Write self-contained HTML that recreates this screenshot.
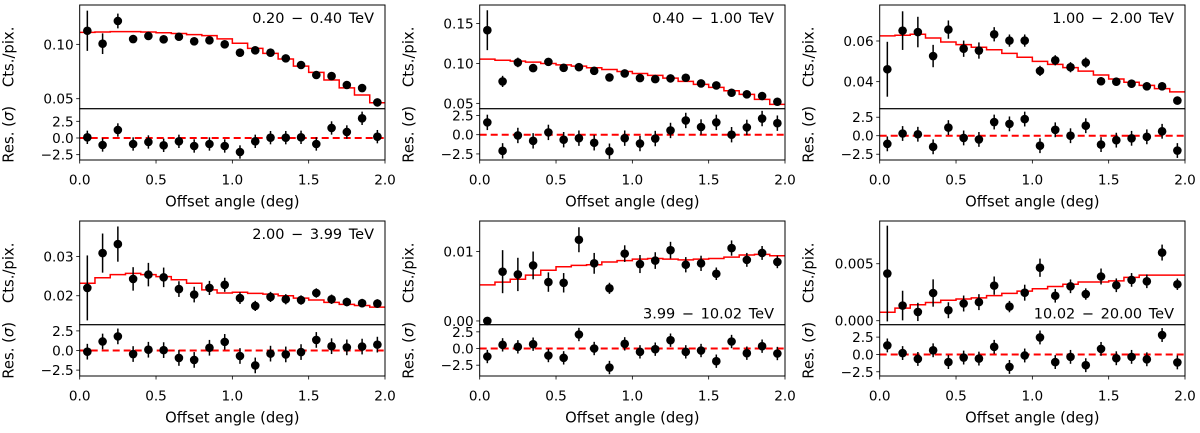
<!DOCTYPE html>
<html><head><meta charset="utf-8"><style>
body{margin:0;background:#fff;}
svg text{font-family:"DejaVu Sans","Liberation Sans",sans-serif;fill:#000;}
</style></head><body>
<svg id="fig" width="1200" height="428" xmlns="http://www.w3.org/2000/svg"></svg>
<script>
const binCenters=[0.05,0.15,0.25,0.35,0.45,0.55,0.65,0.75,0.85,0.95,1.05,1.15,1.25,1.35,1.45,1.55,1.65,1.75,1.85,1.95];
const xTicks=[0.0,0.5,1.0,1.5,2.0];
const residTicks=[-2.5,0.0,2.5];

const p1Values=[0.1125,0.1006,0.1215,0.1049,0.1077,0.1046,0.107,0.1028,0.1037,0.10,0.0923,0.0945,0.0923,0.0871,0.081,0.0718,0.0708,0.0626,0.0598,0.0466];
const p1Errors=[0.0185,0.0095,0.0068,0.0035,0.0035,0.003,0.003,0.0025,0.0025,0.0025,0.0025,0.0025,0.0025,0.0025,0.002,0.002,0.002,0.002,0.002,0.002];
const p1Model=[0.111,0.1114,0.1117,0.1117,0.1114,0.1107,0.110,0.109,0.108,0.105,0.101,0.0963,0.0917,0.0865,0.080,0.0742,0.0672,0.060,0.0534,0.0463];
const p1Resid=[0.1,-1.05,1.2,-0.9,-0.6,-1.1,-0.5,-1.2,-0.9,-1.2,-2.1,-0.5,0.05,0.05,0.1,-0.9,1.5,0.9,2.95,0.2];
const p1YTicks=[0.05,0.10];

const p2Values=[0.1417,0.0775,0.1013,0.0942,0.102,0.0946,0.0954,0.0908,0.0825,0.0875,0.0817,0.0804,0.0813,0.0821,0.075,0.0725,0.0633,0.0613,0.0592,0.052];
const p2Errors=[0.025,0.007,0.006,0.005,0.004,0.004,0.004,0.004,0.004,0.004,0.004,0.004,0.004,0.004,0.0035,0.0035,0.0035,0.0035,0.0035,0.0035];
const p2Model=[0.1054,0.104,0.1029,0.1017,0.10,0.0983,0.0967,0.0946,0.0925,0.09,0.0875,0.085,0.0817,0.0775,0.0738,0.07,0.0658,0.0613,0.055,0.0488];
const p2Resid=[1.6,-2.1,-0.1,-0.8,0.3,-0.65,-0.45,-1.05,-2.15,-0.45,-1.15,-0.5,0.55,1.85,1.0,1.6,0.0,0.95,2.1,1.5];
const p2YTicks=[0.05,0.10,0.15];

const p3Values=[0.0461,0.0651,0.0644,0.0526,0.0656,0.0562,0.0553,0.0633,0.0602,0.0602,0.0453,0.0505,0.0471,0.0494,0.0402,0.040,0.039,0.0377,0.0377,0.0307];
const p3Errors=[0.0135,0.0095,0.0075,0.0055,0.0045,0.004,0.004,0.0035,0.003,0.003,0.0025,0.0025,0.0025,0.0025,0.002,0.002,0.002,0.002,0.002,0.002];
const p3Model=[0.0625,0.0628,0.0633,0.0615,0.0595,0.0582,0.0569,0.0557,0.0539,0.052,0.050,0.0485,0.0469,0.0452,0.0433,0.0413,0.0397,0.0382,0.0366,0.035];
const p3Resid=[-1.1,0.3,0.2,-1.5,1.1,-0.3,-0.5,1.85,1.6,2.25,-1.35,0.8,0.0,1.35,-1.2,-0.6,-0.35,-0.15,0.6,-2.0];
const p3YTicks=[0.04,0.06];

const p4Values=[0.022,0.0309,0.0332,0.0243,0.0254,0.0247,0.0217,0.0203,0.022,0.0228,0.0194,0.0174,0.0197,0.0191,0.0189,0.0207,0.0191,0.0184,0.0181,0.018];
const p4Errors=[0.0083,0.005,0.0045,0.003,0.003,0.0025,0.002,0.002,0.0018,0.0018,0.0015,0.0013,0.0013,0.0013,0.0012,0.0012,0.0012,0.0011,0.0011,0.0011];
const p4Model=[0.0232,0.0246,0.0254,0.0257,0.0254,0.0249,0.0241,0.0232,0.0215,0.0207,0.0209,0.0206,0.0204,0.020,0.0194,0.0189,0.0183,0.0178,0.0175,0.0171];
const p4Resid=[-0.15,1.15,1.8,-0.45,0.1,0.05,-0.95,-1.2,0.35,1.1,-0.7,-1.9,-0.4,-0.5,-0.2,1.35,0.55,0.4,0.5,0.75];
const p4YTicks=[0.02,0.03];

const p5Values=[0.0,0.0071,0.0067,0.008,0.0056,0.0055,0.0117,0.0083,0.0047,0.0097,0.0082,0.0087,0.0102,0.0081,0.0083,0.0068,0.0105,0.0088,0.0098,0.0085];
const p5Errors=[0.0,0.0031,0.0024,0.002,0.0014,0.0014,0.0018,0.0015,0.0008,0.0012,0.0013,0.0012,0.0012,0.0011,0.0011,0.0009,0.0011,0.001,0.001,0.0009];
const p5Model=[0.0052,0.0056,0.006,0.0066,0.0073,0.0078,0.008,0.0081,0.0085,0.0087,0.0089,0.009,0.0089,0.0088,0.0089,0.009,0.0092,0.0095,0.0096,0.0094];
const p5Resid=[-1.2,0.55,0.25,0.65,-1.05,-1.4,2.1,0.0,-2.85,0.7,-0.5,-0.1,1.25,-0.5,-0.3,-1.9,1.05,-0.7,0.35,-0.75];
const p5YTicks=[0.00,0.01];

const p6Values=[0.00414,0.00133,0.00077,0.00243,0.00092,0.00151,0.00163,0.00308,0.00124,0.00246,0.00465,0.00219,0.00302,0.00234,0.00388,0.00311,0.00358,0.00346,0.00598,0.0032];
const p6Errors=[0.0042,0.0013,0.0008,0.0012,0.0007,0.0007,0.0007,0.0008,0.0005,0.0007,0.0008,0.0006,0.0006,0.0005,0.0007,0.0006,0.0006,0.0006,0.0007,0.0005];
const p6Model=[0.00074,0.0011,0.0014,0.0016,0.0018,0.0019,0.0020,0.0022,0.0024,0.0026,0.0028,0.0030,0.0032,0.0034,0.0034,0.0035,0.0038,0.0040,0.0040,0.0040];
const p6Resid=[1.3,0.2,-0.65,0.6,-1.1,-0.45,-0.6,1.1,-1.8,-0.15,2.45,-1.1,-0.35,-1.55,0.8,-0.55,-0.35,-0.7,2.8,-1.15];
const p6YTicks=[0.000,0.005];

const panels=[
 {v:p1Values,e:p1Errors,m:p1Model,r:p1Resid,t:p1YTicks,dec:2,x:79.7,y:5,ymin:0.0408,ymax:0.1362,rmin:-3.3,rmax:4.39,label:"0.20 \u2212 0.40 TeV",lpos:"top"},
 {v:p2Values,e:p2Errors,m:p2Model,r:p2Resid,t:p2YTicks,dec:2,x:479.7,y:5,ymin:0.0433,ymax:0.1733,rmin:-3.29,rmax:3.38,label:"0.40 \u2212 1.00 TeV",lpos:"top"},
 {v:p3Values,e:p3Errors,m:p3Model,r:p3Resid,t:p3YTicks,dec:2,x:879.7,y:5,ymin:0.0267,ymax:0.0777,rmin:-3.28,rmax:3.65,label:"1.00 \u2212 2.00 TeV",lpos:"top"},
 {v:p4Values,e:p4Errors,m:p4Model,r:p4Resid,t:p4YTicks,dec:2,x:79.7,y:221,ymin:0.0126,ymax:0.0391,rmin:-3.25,rmax:3.29,label:"2.00 \u2212 3.99 TeV",lpos:"top"},
 {v:p5Values,e:p5Errors,m:p5Model,r:p5Resid,t:p5YTicks,dec:2,x:479.7,y:221,ymin:-0.00054,ymax:0.0144,rmin:-4.12,rmax:3.57,label:"3.99 \u2212 10.02 TeV",lpos:"bottom"},
 {v:p6Values,e:p6Errors,m:p6Model,r:p6Resid,t:p6YTicks,dec:3,x:879.7,y:221,ymin:-0.00035,ymax:0.00875,rmin:-3.11,rmax:4.29,label:"10.02 \u2212 20.00 TeV",lpos:"bottom"}
];
const NS="http://www.w3.org/2000/svg";
const svg=document.getElementById('fig');
function mk(tag,attrs,parent){const el=document.createElementNS(NS,tag);for(const k in attrs)el.setAttribute(k,attrs[k]);(parent||svg).appendChild(el);return el;}
const W=305.3,UH=103.7,LH=51.3,FS=13.6,TFS=14.8;
panels.forEach((p,pi)=>{
 const g=mk('g',{});
 
 
 const sx=x=>p.x+x/2*W;
 const sy=v=>p.y+UH-(v-p.ymin)/(p.ymax-p.ymin)*UH;
 const ry0=p.y+UH;
 const sr=v=>ry0+LH-(v-p.rmin)/(p.rmax-p.rmin)*LH;
 let d='';
 p.m.forEach((mv,i)=>{const x0=sx(binCenters[i]-0.05),x1=sx(binCenters[i]+0.05),y=sy(mv);d+=(i===0?'M':'L')+x0+','+y+'L'+x1+','+y;});
 const ml=mk('path',{d:d,fill:'none',stroke:'#ff0000','stroke-width':1.5},g);
 
 
 p.v.forEach((v,i)=>{
  const cx=sx(binCenters[i]);
  if(p.e[i]>0){const eb=mk('line',{x1:cx,x2:cx,y1:sy(v-p.e[i]),y2:sy(v+p.e[i]),stroke:'#000','stroke-width':1.5},g);
   
   }
  const c=mk('circle',{cx:cx,cy:sy(v),r:4.3,fill:'#000'},g);
  
  
 });
 const zl=mk('line',{x1:p.x,x2:p.x+W,y1:sr(0),y2:sr(0),stroke:'#ff0000','stroke-width':2,'stroke-dasharray':'7,4'},g);
 
 
 p.r.forEach((v,i)=>{
  const cx=sx(binCenters[i]);
  const eb=mk('line',{x1:cx,x2:cx,y1:sr(v-1),y2:sr(v+1),stroke:'#000','stroke-width':1.5},g);
  
  
  const c=mk('circle',{cx:cx,cy:sr(v),r:4.3,fill:'#000'},g);
  
  
 });
 const f1=mk('rect',{x:p.x,y:p.y,width:W,height:UH,fill:'none',stroke:'#000','stroke-width':1},g);
 
 
 const f2=mk('rect',{x:p.x,y:ry0,width:W,height:LH,fill:'none',stroke:'#000','stroke-width':1},g);
 
 
 p.t.forEach(t=>{const y=sy(t);mk('line',{x1:p.x-3.5,x2:p.x,y1:y,y2:y,stroke:'#000','stroke-width':0.8},g);
  const tx=mk('text',{x:p.x-6,y:y+5,'text-anchor':'end','font-size':FS},g);tx.textContent=t.toFixed(p.dec);
  
  });
 residTicks.forEach(t=>{const y=sr(t);mk('line',{x1:p.x-3.5,x2:p.x,y1:y,y2:y,stroke:'#000','stroke-width':0.8},g);
  const tx=mk('text',{x:p.x-6,y:y+5,'text-anchor':'end','font-size':FS},g);tx.textContent=(t<0?'\u2212':'')+Math.abs(t).toFixed(1);
  
  });
 const by=ry0+LH;
 xTicks.forEach(t=>{const x=sx(t);mk('line',{x1:x,x2:x,y1:by,y2:by+3.5,stroke:'#000','stroke-width':0.8},g);
  const tx=mk('text',{x:x,y:by+24.5,'text-anchor':'middle','font-size':FS},g);tx.textContent=t.toFixed(1);
  
  });
 const xt=mk('text',{x:p.x+W/2,y:by+46.5,'text-anchor':'middle','font-size':TFS},g);xt.textContent='Offset angle (deg)';
 
 
 const yl=p.x-66;
 const yt=mk('text',{x:0,y:0,'text-anchor':'middle','font-size':TFS,transform:'translate('+yl+','+(p.y+UH/2)+') rotate(-90)'},g);yt.textContent='Cts./pix.';
 
 
 const rt=mk('text',{x:0,y:0,'text-anchor':'middle','font-size':TFS,transform:'translate('+yl+','+(ry0+LH/2)+') rotate(-90)'},g);
 rt.innerHTML='Res. (<tspan font-style="italic">\u03c3</tspan>)';
 
 
 const ly=p.lpos==='top'?p.y+18:p.y+UH-6;
 const lt=mk('text',{x:p.x+W-11,y:ly,'text-anchor':'end','font-size':14.5,'word-spacing':'2px'},g);lt.textContent=p.label;
 
 
});
</script>
</body></html>
